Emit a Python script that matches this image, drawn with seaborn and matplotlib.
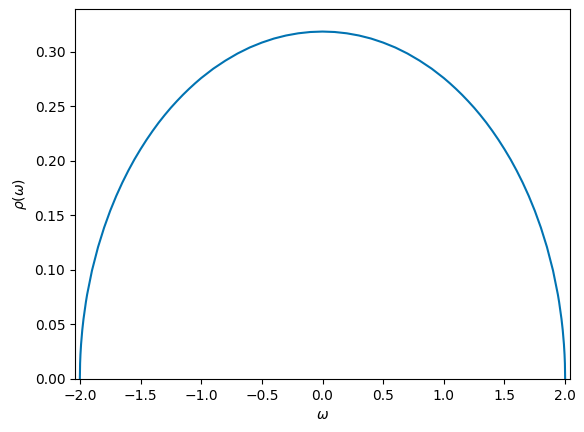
import matplotlib
matplotlib.use("Agg")
import seaborn as sns
import matplotlib.pyplot as plt

# density values
omega = [-2.0, -1.998, -1.995, -1.99, -1.98, -1.97, -1.95, -1.94, -1.9, -1.85,
         -1.8, -1.75, -1.7, -1.65, -1.6, -1.55, -1.5, -1.45, -1.4, -1.35,
         -1.3, -1.25, -1.2, -1.15, -1.1, -1.05, -1.0, -0.9, -0.8, -0.7,
         -0.6, -0.5, -0.4, -0.3, -0.2, -0.1,
         0.0,
         0.1, 0.2, 0.3, 0.4, 0.5, 0.6,
         0.7, 0.8, 0.9, 1.0, 1.05, 1.1, 1.15, 1.2, 1.25, 1.3,
         1.35, 1.4, 1.45, 1.5, 1.55, 1.6, 1.65, 1.7, 1.75, 1.8,
         1.85, 1.9, 1.94, 1.95, 1.97, 1.98, 1.99, 1.995, 1.998, 2.0]
rho = [0.0, 0.0142, 0.0225, 0.0318, 0.0449, 0.0549, 0.0707, 0.0774, 0.0994, 0.1209,
       0.1387, 0.1541, 0.1677, 0.1799, 0.1910, 0.2012, 0.2105, 0.2192, 0.2273, 0.2349,
       0.2419, 0.2485, 0.2546, 0.2604, 0.2658, 0.2709, 0.2757, 0.2843, 0.2917, 0.2982,
       0.3037, 0.3082, 0.3119, 0.3147, 0.3167, 0.3179,
       0.3183,
       0.3179, 0.3167, 0.3147, 0.3119, 0.3082, 0.3037,
       0.2982, 0.2917, 0.2843, 0.2757, 0.2709, 0.2658, 0.2604, 0.2546, 0.2485, 0.2419,
       0.2349, 0.2273, 0.2192, 0.2105, 0.2012, 0.1910, 0.1799, 0.1677, 0.1541, 0.1387,
       0.1209, 0.0994, 0.0774, 0.0707, 0.0549, 0.0449, 0.0318, 0.0225, 0.0142, 0.0]

fig = plt.figure(figsize=(5.84, 4.32), dpi=100)
ax = fig.add_axes([75 / 584, 53 / 432, 495 / 584, 369.6 / 432])
sns.lineplot(x=omega, y=rho, ax=ax, color=sns.color_palette("colorblind")[0],
             linewidth=1.5, sort=False)
ax.set_xlim(-2.04, 2.04)
ax.set_ylim(0, 0.3386)
ax.set_xlabel(r"$\omega$")
ax.set_ylabel(r"$\rho(\omega)$")
fig.savefig("out.png", dpi=100)
